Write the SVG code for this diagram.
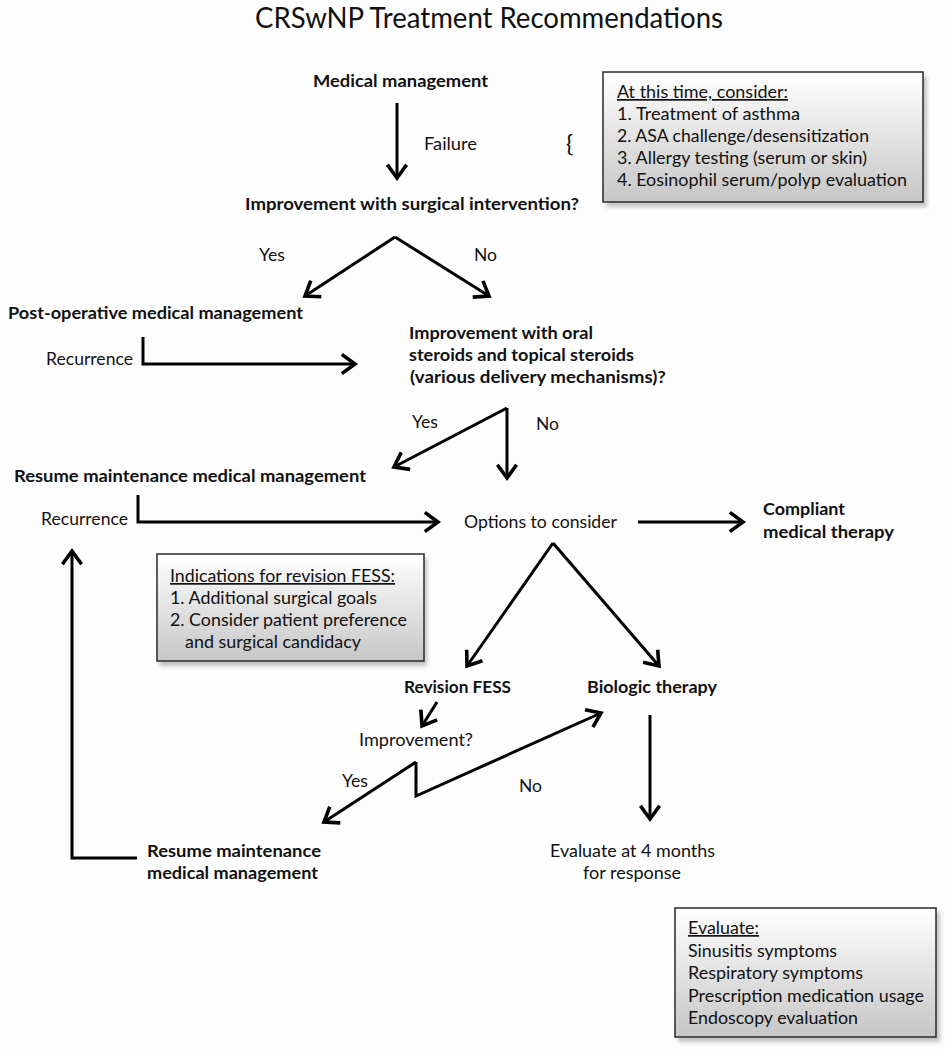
<svg xmlns="http://www.w3.org/2000/svg" width="948" height="1050" viewBox="0 0 948 1050">
<defs>
<style>
text{font-family:Lato,"Open Sans","Liberation Sans",sans-serif;fill:#111;font-size:17px}
.b{font-weight:bold}
.t{font-size:29px}
.u{text-decoration:underline}
.c{fill:none;stroke:#000;stroke-width:3;stroke-linecap:butt;stroke-linejoin:miter}
.box{fill:url(#g);stroke:#2a2a2a;stroke-width:1.5}
.sh{fill:#9a9a9a;opacity:0.6}
</style>
<linearGradient id="g" x1="0" y1="0" x2="0" y2="1">
<stop offset="0" stop-color="#ffffff"/>
<stop offset="1" stop-color="#c6c6c6"/>
</linearGradient>
<filter id="blur" x="-10%" y="-10%" width="120%" height="120%"><feGaussianBlur stdDeviation="2"/></filter>
<marker id="ah" markerUnits="userSpaceOnUse" markerWidth="24" markerHeight="24" viewBox="-14 -10 16 20" refX="0" refY="0" orient="auto">
<path d="M-11,-8 L0,0 L-11,8" fill="none" stroke="#000" stroke-width="3"/>
</marker>
</defs>
<rect width="948" height="1050" fill="#fdfdfd"/>
<text class="t" x="255" y="28" textLength="468" lengthAdjust="spacingAndGlyphs">CRSwNP Treatment Recommendations</text>

<g id="medical-management"><text class="b" x="313" y="87" textLength="175" lengthAdjust="spacingAndGlyphs">Medical management</text></g>
<g id="consider-box">
<rect class="sh" x="606" y="76" width="321" height="131" filter="url(#blur)"/>
<rect class="box" x="603" y="72" width="320" height="130"/>
<text class="u" x="617" y="98" textLength="171" lengthAdjust="spacingAndGlyphs">At this time, consider:</text>
<text x="617" y="120" textLength="183" lengthAdjust="spacingAndGlyphs">1. Treatment of asthma</text>
<text x="617" y="142" textLength="252" lengthAdjust="spacingAndGlyphs">2. ASA challenge/desensitization</text>
<text x="617" y="164" textLength="250" lengthAdjust="spacingAndGlyphs">3. Allergy testing (serum or skin)</text>
<text x="617" y="186" textLength="290" lengthAdjust="spacingAndGlyphs">4. Eosinophil serum/polyp evaluation</text>
</g>
<g id="brace"><text x="566" y="152" style="font-size:24px;fill:#111">{</text></g>
<g id="surgical-q"><text class="b" x="245" y="210" textLength="334" lengthAdjust="spacingAndGlyphs">Improvement with surgical intervention?</text></g>
<g id="postop"><text class="b" x="8" y="319" textLength="295" lengthAdjust="spacingAndGlyphs">Post-operative medical management</text></g>
<g id="steroids-q">
<text class="b" x="409" y="339" textLength="184" lengthAdjust="spacingAndGlyphs">Improvement with oral</text>
<text class="b" x="409" y="361" textLength="225" lengthAdjust="spacingAndGlyphs">steroids and topical steroids</text>
<text class="b" x="410" y="383" textLength="256" lengthAdjust="spacingAndGlyphs">(various delivery mechanisms)?</text>
</g>
<g id="resume1"><text class="b" x="14" y="482" textLength="352" lengthAdjust="spacingAndGlyphs">Resume maintenance medical management</text></g>
<g id="options"><text x="464" y="528" textLength="153" lengthAdjust="spacingAndGlyphs">Options to consider</text></g>
<g id="compliant">
<text class="b" x="763" y="515" textLength="82" lengthAdjust="spacingAndGlyphs">Compliant</text>
<text class="b" x="763" y="538" textLength="131" lengthAdjust="spacingAndGlyphs">medical therapy</text>
</g>
<g id="indications-box">
<rect class="sh" x="159" y="558" width="268" height="108" filter="url(#blur)"/>
<rect class="box" x="157" y="554" width="267" height="107"/>
<text class="u" x="170" y="582" textLength="225" lengthAdjust="spacingAndGlyphs">Indications for revision FESS:</text>
<text x="170" y="604" textLength="207" lengthAdjust="spacingAndGlyphs">1. Additional surgical goals</text>
<text x="170" y="626" textLength="237" lengthAdjust="spacingAndGlyphs">2. Consider patient preference</text>
<text x="185" y="648" textLength="176" lengthAdjust="spacingAndGlyphs">and surgical candidacy</text>
</g>
<g id="revision"><text class="b" x="404" y="693" textLength="107" lengthAdjust="spacingAndGlyphs">Revision FESS</text></g>
<g id="biologic"><text class="b" x="587" y="693" textLength="130" lengthAdjust="spacingAndGlyphs">Biologic therapy</text></g>
<g id="improvement-q"><text x="359" y="746" textLength="114" lengthAdjust="spacingAndGlyphs">Improvement?</text></g>
<g id="resume2">
<text class="b" x="147" y="857" textLength="174" lengthAdjust="spacingAndGlyphs">Resume maintenance</text>
<text class="b" x="147" y="879" textLength="171" lengthAdjust="spacingAndGlyphs">medical management</text>
</g>
<g id="evaluate4">
<text x="550" y="857" textLength="165" lengthAdjust="spacingAndGlyphs">Evaluate at 4 months</text>
<text x="583" y="879" textLength="98" lengthAdjust="spacingAndGlyphs">for response</text>
</g>
<g id="evaluate-box">
<rect class="sh" x="678" y="912" width="262" height="130" filter="url(#blur)"/>
<rect class="box" x="675" y="908" width="261" height="129"/>
<text class="u" x="688" y="934" textLength="71" lengthAdjust="spacingAndGlyphs">Evaluate:</text>
<text x="688" y="957" textLength="149" lengthAdjust="spacingAndGlyphs">Sinusitis symptoms</text>
<text x="688" y="979" textLength="175" lengthAdjust="spacingAndGlyphs">Respiratory symptoms</text>
<text x="688" y="1002" textLength="236" lengthAdjust="spacingAndGlyphs">Prescription medication usage</text>
<text x="688" y="1024" textLength="170" lengthAdjust="spacingAndGlyphs">Endoscopy evaluation</text>
</g>

<g id="connectors">
<path class="c" d="M397,103 V178" marker-end="url(#ah)"/>
<path class="c" d="M395,237 L305,296" marker-end="url(#ah)"/>
<path class="c" d="M395,237 L489,296" marker-end="url(#ah)"/>
<path class="c" d="M143,337 V364 H355" marker-end="url(#ah)"/>
<path class="c" d="M507,408 L394,467" marker-end="url(#ah)"/>
<path class="c" d="M507,408 V478" marker-end="url(#ah)"/>
<path class="c" d="M138,495 V522 H438" marker-end="url(#ah)"/>
<path class="c" d="M638,522 H743" marker-end="url(#ah)"/>
<path class="c" d="M553,543 L467,666" marker-end="url(#ah)"/>
<path class="c" d="M553,543 L659,666" marker-end="url(#ah)"/>
<path class="c" d="M137,858 H72 V551" marker-end="url(#ah)"/>
<path class="c" d="M437,702 L422,726" marker-end="url(#ah)"/>
<path class="c" d="M416,762 L324,822" marker-end="url(#ah)"/>
<path class="c" d="M416,762 V796 L601,713" marker-end="url(#ah)"/>
<path class="c" d="M650,715 V819" marker-end="url(#ah)"/>
</g>
<g id="labels">
<text x="424" y="150" textLength="53" lengthAdjust="spacingAndGlyphs">Failure</text>
<text x="259" y="261" textLength="26" lengthAdjust="spacingAndGlyphs">Yes</text>
<text x="474" y="261" textLength="23" lengthAdjust="spacingAndGlyphs">No</text>
<text x="46" y="365" textLength="87" lengthAdjust="spacingAndGlyphs">Recurrence</text>
<text x="412" y="428" textLength="26" lengthAdjust="spacingAndGlyphs">Yes</text>
<text x="536" y="430" textLength="23" lengthAdjust="spacingAndGlyphs">No</text>
<text x="41" y="525" textLength="87" lengthAdjust="spacingAndGlyphs">Recurrence</text>
<text x="342" y="787" textLength="26" lengthAdjust="spacingAndGlyphs">Yes</text>
<text x="519" y="792" textLength="23" lengthAdjust="spacingAndGlyphs">No</text>
</g>
</svg>
